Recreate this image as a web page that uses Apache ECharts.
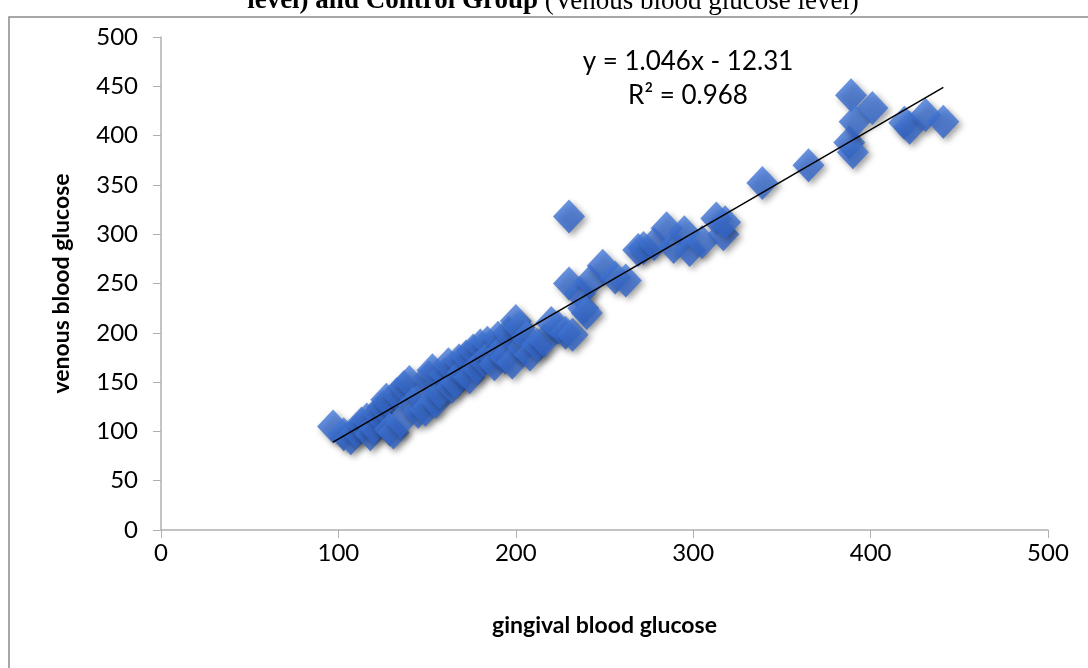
<!DOCTYPE html>
<html>
<head>
<meta charset="utf-8">
<script src="https://cdn.jsdelivr.net/npm/echarts@6/dist/echarts.min.js"></script>
<style>
  html, body { margin: 0; padding: 0; background: #fff; }
  #chart { width: 1088px; height: 668px; }
</style>
</head>
<body>
<div id="chart"></div>
<script>
// gingival (x) vs venous (y) blood glucose readings
var gingival = [97, 103, 107, 110, 113, 116, 118, 120, 122, 125, 127, 129, 131, 133, 135, 137, 140, 142, 145, 147,
    149, 151, 153, 155, 157, 160, 162, 164, 166, 168, 170, 172, 174, 176, 178, 180, 182, 184, 186, 188,
    190, 192, 194, 196, 198, 200, 202, 204, 206, 208, 212, 216, 220, 224, 228, 230, 230, 232, 236, 238,
    240, 242, 249, 256, 262, 269, 272, 278, 285, 289, 295, 298, 305, 313, 317, 318, 339, 365, 388, 389,
    390, 391, 401, 419, 422, 431, 441];
var venous = [105, 97, 93, 100, 108, 112, 97, 104, 118, 125, 132, 102, 99, 138, 110, 145, 150, 128, 120, 135,
    122, 155, 162, 130, 140, 158, 168, 145, 150, 172, 160, 176, 155, 182, 165, 187, 172, 190, 178, 168,
    195, 182, 175, 200, 170, 212, 205, 185, 195, 178, 188, 192, 210, 205, 200, 318, 250, 198, 240, 225,
    220, 252, 268, 256, 253, 284, 286, 290, 306, 287, 302, 284, 292, 316, 300, 312, 352, 370, 393, 441,
    383, 414, 428, 413, 408, 421, 414];

// linear trendline shown in the chart
var slope = 1.046;
var intercept = -12.31;
var trendX = [97, 441];

var xTicks = [0, 100, 200, 300, 400, 500];
var yTicks = [0, 50, 100, 150, 200, 250, 300, 350, 400, 450, 500];

var points = [];
for (var i = 0; i < gingival.length; i++) {
    points.push([gingival[i], venous[i]]);
}
var trend = trendX.map(function (x) { return [x, slope * x + intercept]; });

var myChart = echarts.init(document.getElementById('chart'));

var axisFont = 'Lato, "Open Sans", sans-serif';

var option = {
    backgroundColor: '#fff',
    animation: false,
    grid: { left: 161, right: 40, top: 37, bottom: 138 },
    xAxis: {
        type: 'value',
        min: xTicks[0],
        max: xTicks[xTicks.length - 1],
        interval: 100,
        name: 'gingival blood glucose',
        nameLocation: 'middle',
        nameGap: 84,
        nameTextStyle: { fontFamily: axisFont, fontWeight: 'bold', fontSize: 23, color: '#000' },
        splitLine: { show: false },
        axisLine: { lineStyle: { color: '#b0b0b0', width: 1.5 } },
        axisTick: { length: 8, lineStyle: { color: '#b0b0b0' } },
        axisLabel: { fontFamily: axisFont, fontSize: 24, color: '#000', margin: 11 }
    },
    yAxis: {
        type: 'value',
        min: yTicks[0],
        max: yTicks[yTicks.length - 1],
        interval: 50,
        name: 'venous blood glucose',
        nameLocation: 'middle',
        nameGap: 88,
        nameTextStyle: { fontFamily: axisFont, fontWeight: 'bold', fontSize: 23, color: '#000' },
        splitLine: { show: false },
        axisLine: { show: true, lineStyle: { color: '#b0b0b0', width: 1.5 } },
        axisTick: { show: true, length: 8, lineStyle: { color: '#b0b0b0' } },
        axisLabel: { fontFamily: axisFont, fontSize: 24, color: '#000', margin: 23 }
    },
    series: [
        {
            type: 'scatter',
            data: points,
            symbol: 'diamond',
            symbolSize: [32, 34],
            itemStyle: {
                color: new echarts.graphic.LinearGradient(0, 0, 0, 1, [
                    { offset: 0, color: '#477cda' },
                    { offset: 1, color: '#2f62c8' }
                ]),
                shadowBlur: 6,
                shadowOffsetX: 3,
                shadowOffsetY: 3,
                shadowColor: 'rgba(0,0,0,0.45)'
            },
            z: 2
        },
        {
            type: 'line',
            data: trend,
            symbol: 'none',
            lineStyle: { color: '#000', width: 1.5 },
            z: 3
        }
    ],
    graphic: [
        {
            type: 'rect',
            shape: { x: 9, y: 17, width: 1100, height: 700 },
            style: { fill: 'none', stroke: '#8a8a8a', lineWidth: 1.5 },
            silent: true
        },
        {
            type: 'text',
            x: 553, y: -12,
            style: {
                text: '{b|level) and Control Group }{n|(Venous blood glucose level)}',
                align: 'center',
                rich: {
                    b: { fontFamily: '"Liberation Serif", serif', fontWeight: 'bold', fontSize: 27, fill: '#000' },
                    n: { fontFamily: '"Liberation Serif", serif', fontSize: 27, fill: '#000' }
                }
            },
            z: -1
        },
        {
            type: 'text',
            x: 688, y: 49,
            style: {
                text: 'y = 1.046x - 12.31',
                align: 'center',
                fontFamily: axisFont, fontSize: 26, fill: '#000'
            }
        },
        {
            type: 'text',
            x: 688, y: 83,
            style: {
                text: 'R² = 0.968',
                align: 'center',
                fontFamily: axisFont, fontSize: 26, fill: '#000'
            }
        }
    ]
};

myChart.setOption(option);
</script>
</body>
</html>
